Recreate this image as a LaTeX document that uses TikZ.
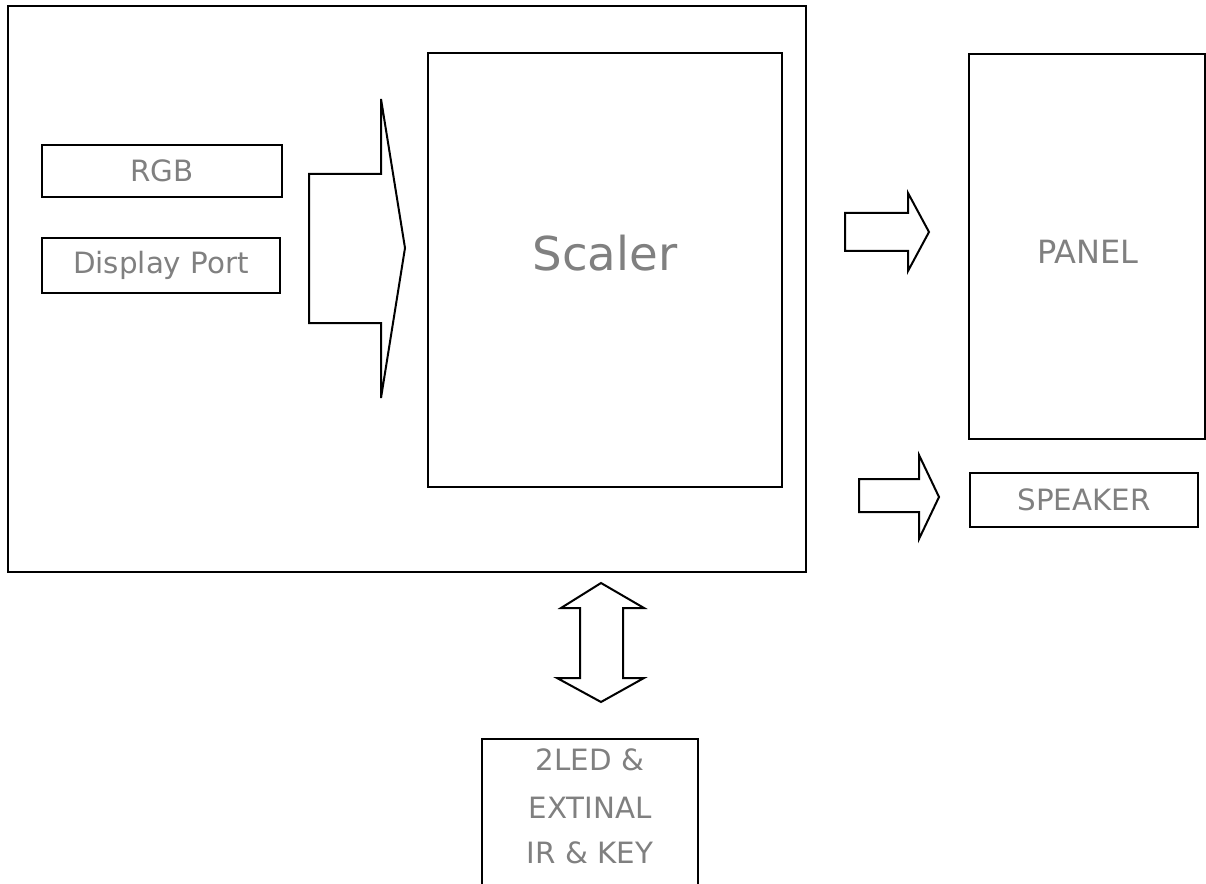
\documentclass[tikz,border=0pt]{standalone}
\usepackage{fontspec}
\setmainfont{DejaVu Sans}
\definecolor{txtgray}{HTML}{808080}
\tikzset{
  box/.style={draw=black, line width=1.5pt, rectangle, inner sep=0pt, text=txtgray},
  fatarrow/.style={draw=black, line width=1.5pt, fill=white, line join=miter},
  lbl/.style={text=txtgray, inner sep=0pt, font=\fontsize{22}{26}\selectfont},
}
\begin{document}
\begin{tikzpicture}[x=0.75pt,y=-0.75pt]
\clip (0,0) rectangle (1206,884);
\fill[white] (0,0) rectangle (1206,884);
% outer board
\node[box, minimum width=798*0.75pt, minimum height=566*0.75pt] (board) at (407,289) {};
% scaler
\node[box, minimum width=354*0.75pt, minimum height=434*0.75pt] (scaler) at (605,270) {};
\node[lbl, font=\fontsize{35}{40}\selectfont] (scalertxt) at (605,253) {Scaler};
% inputs
\node[box, lbl, draw=black, minimum width=240*0.75pt, minimum height=52*0.75pt] (rgb) at (162,171) {RGB};
\node[box, lbl, draw=black, minimum width=238*0.75pt, minimum height=55*0.75pt] (dp) at (161,265.5) {Display Port};
% big input arrow
\draw[fatarrow] (309,174) -- (381,174) -- (381,99) -- (405,248) -- (381,398) -- (381,323) -- (309,323) -- cycle;
% panel
\node[box, minimum width=236*0.75pt, minimum height=385*0.75pt] (panel) at (1087,246.5) {};
\node[lbl, font=\fontsize{24}{28}\selectfont] (paneltxt) at (1088,252) {PANEL};
% speaker
\node[box, lbl, draw=black, minimum width=228*0.75pt, minimum height=54*0.75pt] (speaker) at (1084,500) {SPEAKER};
% arrows to panel and speaker
\draw[fatarrow] (845,213) -- (908,213) -- (908,193) -- (929,232) -- (908,271) -- (908,251) -- (845,251) -- cycle;
\draw[fatarrow] (859,479) -- (919,479) -- (919,455) -- (939,497) -- (919,539) -- (919,512) -- (859,512) -- cycle;
% double arrow
\draw[fatarrow] (601,583) -- (644,608) -- (623,608) -- (623,678) -- (644,678) -- (601,702) -- (557,678) -- (580,678) -- (580,608) -- (561,608) -- cycle;
% bottom box
\node[box, minimum width=216*0.75pt, minimum height=160*0.75pt, anchor=north] (ledbox) at (590,738) {};
\node[lbl] (l1) at (590,760) {2LED \&};
\node[lbl] (l2) at (590,808) {EXTINAL};
\node[lbl] (l3) at (590,853) {IR \& KEY};
\end{tikzpicture}
\end{document}
